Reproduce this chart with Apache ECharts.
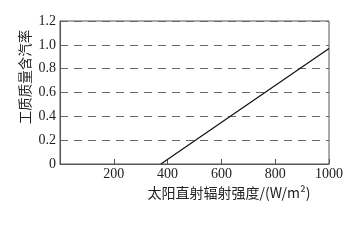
<!DOCTYPE html>
<html><head><meta charset="utf-8">
<script src="https://cdn.jsdelivr.net/npm/echarts@6/dist/echarts.min.js"></script>
<style>html,body{margin:0;padding:0;background:#fff}#c{width:349px;height:241px}</style>
</head><body><div id="c"></div>
<script>
const xValues = [375, 1000];
const yValues = [0, 0.97];
const xTicks = [0, 200, 400, 600, 800, 1000];
const yTicks = [0, 0.2, 0.4, 0.6, 0.8, 1.0, 1.2];
const xName = '太阳直射辐射强度/(W/m²)';
const yName = '工质质量含汽率';

const chart = echarts.init(document.getElementById('c'), null, {renderer: 'canvas'});
const serif = '"Liberation Serif","DejaVu Serif",serif';
const cjk = '"Noto Sans CJK SC","Noto Sans CJK JP",sans-serif';
chart.setOption({
  animation: false,
  grid: {left: 60, top: 21, right: 20, bottom: 77, show: true, borderColor: '#555', borderWidth: 1,
    containLabel: false, outerBoundsMode: 'none'},
  graphic: [
    {type: 'text', x: 229, y: 193, style: {text: xName, font: '14px ' + cjk, fill: '#222',
      align: 'center', verticalAlign: 'middle'}},
    {type: 'text', x: 25, y: 77, rotation: Math.PI / 2, style: {text: yName, font: '13.5px ' + cjk,
      fill: '#222', align: 'center', verticalAlign: 'middle'}}
  ],
  xAxis: {
    type: 'value', min: 0, max: 1000, interval: 200,
    axisLine: {show: true, lineStyle: {color: '#555'}},
    axisTick: {show: true, inside: true, length: 5, lineStyle: {color: '#555'}},
    axisLabel: {color: '#222', fontFamily: serif, fontSize: 14, margin: 3,
      formatter: v => v === 0 ? '' : String(v)},
    splitLine: {show: false}
  },
  yAxis: {
    type: 'value', min: 0, max: 1.2, interval: 0.2,
    axisLine: {show: true, lineStyle: {color: '#555'}},
    axisTick: {show: false},
    axisLabel: {color: '#222', fontFamily: serif, fontSize: 14, margin: 4,
      formatter: v => v === 0 ? '0' : v.toFixed(1)},
    splitLine: {show: true, lineStyle: {color: '#666', type: [8, 6], width: 1}}
  },
  series: [{
    type: 'line', data: xValues.map((x, i) => [x, yValues[i]]),
    showSymbol: false, lineStyle: {color: '#111', width: 1.2}
  }]
});
</script></body></html>
